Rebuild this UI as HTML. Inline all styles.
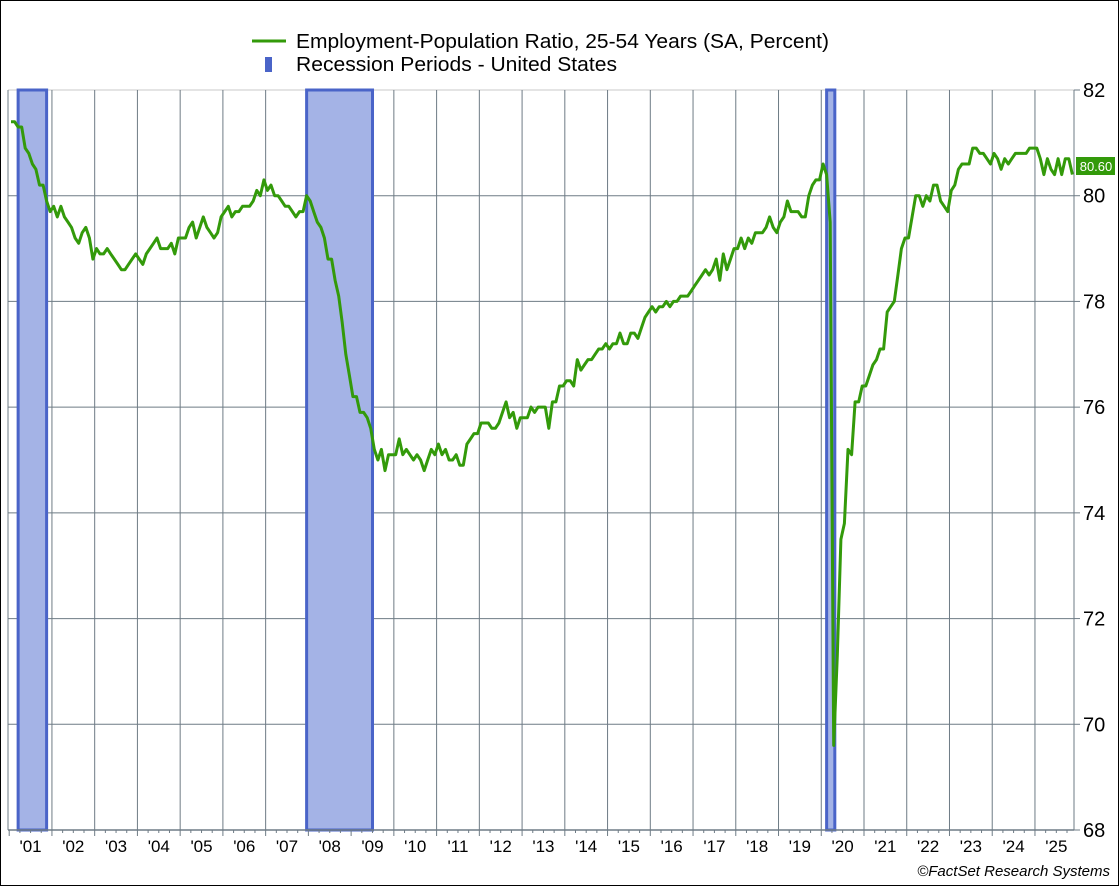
<!DOCTYPE html>
<html><head><meta charset="utf-8"><style>
html,body{margin:0;padding:0;background:#fff}
svg{display:block;font-family:"Liberation Sans",Arial,sans-serif}
</style></head><body>
<svg id="s" width="1119" height="886" xmlns="http://www.w3.org/2000/svg">
<rect x="0.5" y="0.5" width="1118" height="885" fill="#fff" stroke="#000"/>
<g id="grid"></g>
<g id="rec"></g>
<g id="ax"></g>
<polyline id="ln" fill="none" stroke="#339a0a" stroke-width="3" stroke-linejoin="round"/>
<line x1="252" y1="41" x2="286" y2="41" stroke="#339a0a" stroke-width="3"/>
<text x="296" y="48" font-size="20" textLength="533" lengthAdjust="spacingAndGlyphs">Employment-Population Ratio, 25-54 Years (SA, Percent)</text>
<rect x="265" y="57" width="7" height="15" fill="#4a64c8"/>
<text x="296" y="71" font-size="20" textLength="321" lengthAdjust="spacingAndGlyphs">Recession Periods - United States</text>
<rect x="1076" y="157" width="39" height="18" fill="#339a0a"/>
<text x="1096" y="171" font-size="13" fill="#fff" text-anchor="middle">80.60</text>
<text x="1110" y="876" font-size="15" text-anchor="end" font-style="italic">©FactSet Research Systems</text>
</svg>
<script>
const X0=11,W=42.74,L=8,R=1074,T=90,B=830;
const y=v=>T+(82-v)*52.857;
const xm=(yr,m)=>X0+(yr-2001)*W+m/12*W;
let g='',a='',r='';
for(let v=68;v<=82;v+=2){const yy=y(v);g+=`<line x1="${L}" y1="${yy}" x2="${R}" y2="${yy}" stroke="${v==82?'#c8c8c8':'#6e7b85'}" stroke-width="1"/>`;
a+=`<line x1="${R}" y1="${yy}" x2="${R+6}" y2="${yy}" stroke="#6e7b85"/><text x="1083" y="${yy+7}" font-size="20">${v}</text>`;}
for(let yr=2002;yr<=2025;yr++){const xx=9.2+(yr-2001)*W;g+=`<line x1="${xx}" y1="${T}" x2="${xx}" y2="${B}" stroke="#6e7b85"/>`;}
g+=`<line x1="${L}" y1="${T}" x2="${L}" y2="${B}" stroke="#6e7b85"/><line x1="${R}" y1="${T}" x2="${R}" y2="${B}" stroke="#6e7b85"/>`;
a+=`<line x1="${L}" y1="${B}" x2="${R}" y2="${B}" stroke="#6e7b85" stroke-width="1.5"/>`;
for(let yr=2001;yr<=2025;yr++){for(let q=0;q<4;q++){const xx=9.2+(yr-2001)*W+q*W/4;if(xx>R)break;a+=`<line x1="${xx}" y1="${B}" x2="${xx}" y2="${B+(q==0?6:3)}" stroke="#6e7b85"/>`;}
a+=`<text x="${9.2+(yr-2001)*W+W/2}" y="852" font-size="17" text-anchor="middle">'${String(yr%100).padStart(2,'0')}</text>`;}
[[2001,2,2001,10],[2007,11,2009,5.5],[2020,1,2020,3.3]].forEach(([y1,m1,y2,m2])=>{const a1=xm(y1,m1),a2=xm(y2,m2);r+=`<rect x="${a1}" y="${T}" width="${a2-a1}" height="${B-T}" fill="#a4b3e6" stroke="#4a64c8" stroke-width="3"/>`;});
document.getElementById('grid').innerHTML=g;document.getElementById('ax').innerHTML=a;document.getElementById('rec').innerHTML=r;
const d=[
81.4,81.4,81.3,81.3,80.9,80.8,80.6,80.5,80.2,80.2,79.9,79.7,
79.8,79.6,79.8,79.6,79.5,79.4,79.2,79.1,79.3,79.4,79.2,78.8,
79.0,78.9,78.9,79.0,78.9,78.8,78.7,78.6,78.6,78.7,78.8,78.9,
78.8,78.7,78.9,79.0,79.1,79.2,79.0,79.0,79.0,79.1,78.9,79.2,
79.2,79.2,79.4,79.5,79.2,79.4,79.6,79.4,79.3,79.2,79.3,79.6,
79.7,79.8,79.6,79.7,79.7,79.8,79.8,79.8,79.9,80.1,80.0,80.3,
80.1,80.2,80.0,80.0,79.9,79.8,79.8,79.7,79.6,79.7,79.7,80.0,
79.9,79.7,79.5,79.4,79.2,78.8,78.8,78.4,78.1,77.6,77.0,76.6,
76.2,76.2,75.9,75.9,75.8,75.6,75.2,75.0,75.2,74.8,75.1,75.1,
75.1,75.4,75.1,75.2,75.1,75.0,75.1,75.0,74.8,75.0,75.2,75.1,
75.3,75.1,75.2,75.0,75.0,75.1,74.9,74.9,75.3,75.4,75.5,75.5,
75.7,75.7,75.7,75.6,75.6,75.7,75.9,76.1,75.8,75.9,75.6,75.8,
75.8,75.8,76.0,75.9,76.0,76.0,76.0,75.6,76.1,76.1,76.4,76.4,
76.5,76.5,76.4,76.9,76.7,76.8,76.9,76.9,77.0,77.1,77.1,77.2,
77.1,77.2,77.2,77.4,77.2,77.2,77.4,77.4,77.3,77.5,77.7,77.8,
77.9,77.8,77.9,77.9,78.0,77.9,78.0,78.0,78.1,78.1,78.1,78.2,
78.3,78.4,78.5,78.6,78.5,78.6,78.8,78.4,78.9,78.6,78.8,79.0,
79.0,79.2,79.0,79.2,79.1,79.3,79.3,79.3,79.4,79.6,79.4,79.3,
79.5,79.6,79.9,79.7,79.7,79.7,79.6,79.6,80.0,80.2,80.3,80.3,
80.6,80.4,79.5,69.6,71.3,73.5,73.8,75.2,75.1,76.1,76.1,76.4,
76.4,76.6,76.8,76.9,77.1,77.1,77.8,77.9,78.0,78.5,79.0,79.2,
79.2,79.6,80.0,80.0,79.8,80.0,79.9,80.2,80.2,79.9,79.8,79.7,
80.1,80.2,80.5,80.6,80.6,80.6,80.9,80.9,80.8,80.8,80.7,80.6,
80.8,80.7,80.5,80.7,80.6,80.7,80.8,80.8,80.8,80.8,80.9,80.9,
80.9,80.7,80.4,80.7,80.5,80.4,80.7,80.4,80.7,80.7,80.4,80.7,80.7,80.6,80.6];
let p=[];d.forEach((v,i)=>{const xx=X0+i*W/12;if(xx<=R+1)p.push(xx.toFixed(1)+','+y(v).toFixed(1));});
document.getElementById('ln').setAttribute('points',p.join(' '));
</script>
</body></html>
